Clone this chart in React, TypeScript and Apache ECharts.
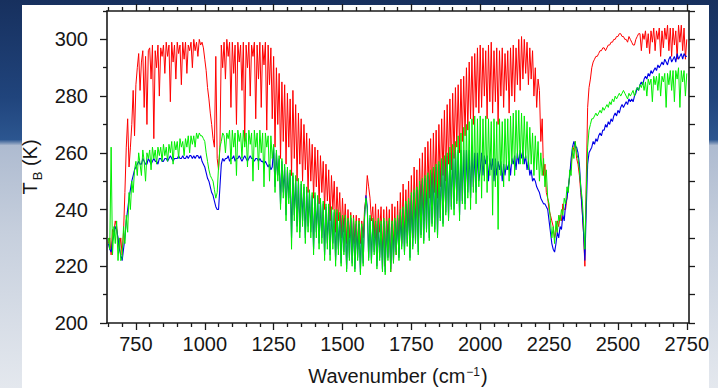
import React, { useEffect, useRef } from "react";
import * as echarts from "echarts";

// Sampling of the spectra: first wavenumber and spacing (cm^-1)
const WN_START = 650;
const WN_STEP = 5;

// Brightness temperatures (K), one row per 50 cm^-1
const redTB = [
  228, 230, 224, 233, 232, 236, 234, 229, 226, 230, // 650
  224, 232, 246, 262, 272, 255, 262, 270, 282, 266, // 700
  284, 290, 295, 282, 292, 296, 276, 294, 270, 296, // 750
  297, 286, 298, 265, 296, 290, 298, 280, 297, 294, // 800
  298, 288, 299, 294, 298, 278, 299, 292, 298, 286, // 850
  299, 295, 298, 284, 299, 293, 299, 288, 298, 296, // 900
  299, 290, 300, 296, 299, 294, 300, 298, 299, 297, // 950
  293, 289, 283, 279, 274, 270, 265, 262, 294, 258, // 1000
  254, 262, 298, 290, 299, 286, 300, 294, 299, 276, // 1050
  299, 288, 298, 270, 299, 292, 298, 282, 299, 264, // 1100
  298, 290, 299, 280, 298, 294, 299, 272, 298, 286, // 1150
  299, 276, 298, 291, 299, 268, 298, 284, 297, 272, // 1200
  294, 262, 290, 270, 288, 258, 285, 264, 284, 256, // 1250
  281, 262, 279, 252, 282, 258, 277, 250, 274, 256, // 1300
  272, 250, 270, 254, 267, 246, 265, 250, 263, 244, // 1350
  262, 248, 261, 242, 259, 246, 257, 240, 256, 243, // 1400
  254, 236, 252, 240, 250, 232, 248, 236, 246, 230, // 1450
  244, 232, 242, 228, 240, 230, 239, 226, 238, 228, // 1500
  238, 226, 237, 228, 236, 230, 240, 244, 252, 248, // 1550
  244, 236, 241, 230, 242, 226, 240, 232, 241, 224, // 1600
  240, 220, 241, 228, 240, 218, 242, 226, 241, 224, // 1650
  243, 226, 246, 228, 249, 230, 247, 232, 250, 228, // 1700
  252, 230, 255, 236, 254, 232, 258, 238, 260, 236, // 1750
  262, 240, 264, 244, 265, 240, 267, 246, 268, 244, // 1800
  270, 248, 272, 252, 275, 250, 277, 256, 279, 254, // 1850
  281, 258, 283, 262, 284, 260, 286, 264, 287, 266, // 1900
  290, 268, 292, 272, 294, 270, 295, 276, 297, 274, // 1950
  298, 276, 297, 280, 296, 272, 298, 278, 299, 274, // 2000
  296, 278, 297, 270, 296, 280, 297, 276, 295, 282, // 2050
  296, 274, 297, 280, 298, 278, 297, 284, 300, 282, // 2100
  301, 286, 300, 288, 299, 284, 297, 286, 296, 280, // 2150
  290, 276, 286, 282, 264, 272, 252, 256, 246, 244, // 2200
  240, 238, 236, 234, 230, 232, 236, 234, 238, 236, // 2250
  242, 240, 240, 244, 248, 252, 256, 260, 262, 264, // 2300
  258, 256, 252, 246, 240, 232, 220, 250, 276, 283, // 2350
  286, 290, 292, 293, 294, 294, 295, 296, 296, 297, // 2400
  297, 296, 297, 298, 298, 299, 299, 300, 300, 301, // 2450
  301, 302, 302, 301, 301, 300, 300, 299, 301, 300, // 2500
  299, 298, 298, 300, 301, 302, 302, 296, 302, 300, // 2550
  303, 297, 302, 295, 303, 299, 304, 296, 303, 300, // 2600
  304, 294, 303, 297, 304, 300, 305, 296, 304, 294, // 2650
  304, 298, 303, 293, 305, 299, 305, 296, 304, 293, // 2700
  300, // 2750
];

const blueTB = [
  228, 226, 225, 229, 231, 234, 233, 230, 226, 224, // 650
  222, 226, 230, 236, 240, 244, 247, 250, 252, 254, // 700
  255, 256, 257, 256, 256, 258, 257, 256, 256, 258, // 750
  257, 256, 257, 258, 257, 257, 256, 258, 258, 257, // 800
  257, 258, 258, 257, 258, 259, 258, 257, 258, 258, // 850
  258, 259, 258, 258, 259, 258, 258, 259, 258, 259, // 900
  259, 258, 259, 258, 259, 259, 258, 259, 257, 256, // 950
  255, 253, 251, 250, 248, 246, 245, 243, 241, 240, // 1000
  240, 248, 256, 258, 257, 258, 258, 259, 257, 258, // 1050
  258, 259, 257, 258, 258, 259, 258, 257, 258, 259, // 1100
  258, 257, 258, 259, 258, 258, 257, 258, 258, 257, // 1150
  258, 257, 257, 256, 257, 256, 255, 256, 254, 255, // 1200
  262, 248, 260, 252, 258, 242, 257, 246, 255, 238, // 1250
  254, 244, 253, 230, 252, 238, 251, 234, 250, 232, // 1300
  249, 236, 248, 230, 247, 234, 246, 232, 245, 226, // 1350
  245, 232, 244, 228, 243, 230, 242, 224, 241, 228, // 1400
  241, 224, 240, 228, 239, 222, 239, 226, 238, 221, // 1450
  237, 225, 237, 219, 236, 223, 237, 221, 236, 219, // 1500
  235, 223, 235, 218, 234, 221, 237, 245, 241, 223, // 1550
  237, 222, 236, 225, 235, 220, 236, 223, 235, 219, // 1600
  236, 218, 235, 223, 236, 219, 235, 222, 236, 225, // 1650
  237, 223, 239, 227, 240, 225, 242, 228, 243, 223, // 1700
  245, 227, 246, 229, 247, 225, 249, 231, 250, 229, // 1750
  251, 233, 252, 230, 253, 235, 254, 233, 255, 231, // 1800
  256, 237, 257, 235, 258, 239, 259, 237, 260, 241, // 1850
  260, 240, 261, 243, 261, 238, 261, 243, 261, 242, // 1900
  261, 246, 261, 244, 261, 248, 260, 246, 260, 250, // 1950
  254, 260, 252, 259, 256, 259, 250, 258, 254, 258, // 2000
  250, 258, 252, 257, 254, 257, 250, 256, 252, 256, // 2050
  254, 257, 252, 258, 256, 259, 254, 260, 256, 261, // 2100
  258, 261, 256, 259, 254, 257, 252, 254, 250, 251, // 2150
  250, 248, 247, 246, 244, 243, 242, 242, 241, 240, // 2200
  236, 232, 228, 226, 225, 228, 232, 230, 234, 233, // 2250
  238, 236, 242, 244, 248, 252, 258, 262, 264, 262, // 2300
  262, 260, 256, 248, 240, 232, 222, 240, 256, 260, // 2350
  261, 262, 264, 263, 265, 264, 266, 267, 266, 268, // 2400
  268, 270, 269, 271, 270, 272, 271, 273, 274, 273, // 2450
  275, 274, 276, 277, 276, 277, 278, 277, 279, 278, // 2500
  279, 278, 280, 281, 283, 282, 284, 285, 284, 286, // 2550
  287, 286, 288, 287, 289, 288, 289, 290, 289, 291, // 2600
  290, 291, 292, 291, 293, 292, 291, 293, 294, 292, // 2650
  293, 294, 292, 295, 293, 294, 295, 293, 295, 294, // 2700
  294, // 2750
];

const greenTB = [
  230, 226, 262, 224, 234, 228, 236, 222, 230, 222, // 650
  223, 234, 228, 238, 232, 246, 240, 250, 246, 254, // 700
  257, 252, 260, 256, 252, 261, 257, 250, 260, 258, // 750
  261, 254, 262, 258, 261, 256, 262, 259, 262, 257, // 800
  263, 259, 262, 257, 263, 260, 264, 256, 264, 261, // 850
  264, 258, 265, 262, 264, 259, 265, 262, 266, 260, // 900
  266, 263, 266, 262, 267, 265, 267, 266, 266, 265, // 950
  264, 260, 257, 254, 252, 251, 250, 247, 244, 246, // 1000
  255, 262, 264, 267, 266, 260, 267, 265, 268, 256, // 1050
  268, 262, 267, 252, 268, 264, 267, 258, 268, 262, // 1100
  267, 255, 268, 263, 267, 250, 268, 262, 267, 254, // 1150
  268, 260, 267, 248, 267, 262, 266, 250, 266, 258, // 1200
  263, 246, 261, 250, 259, 240, 258, 244, 256, 236, // 1250
  255, 242, 254, 226, 253, 236, 252, 232, 251, 230, // 1300
  250, 234, 249, 228, 248, 232, 247, 230, 246, 224, // 1350
  246, 230, 245, 226, 244, 228, 243, 222, 242, 226, // 1400
  242, 222, 241, 226, 240, 220, 240, 224, 239, 220, // 1450
  238, 224, 238, 218, 237, 222, 238, 220, 237, 218, // 1500
  236, 222, 236, 217, 235, 220, 238, 244, 240, 222, // 1550
  238, 221, 237, 224, 236, 219, 237, 222, 236, 218, // 1600
  237, 217, 236, 222, 237, 218, 236, 221, 237, 224, // 1650
  238, 222, 240, 226, 241, 224, 243, 227, 244, 222, // 1700
  246, 226, 247, 228, 248, 224, 250, 230, 251, 228, // 1750
  252, 232, 253, 229, 254, 234, 255, 232, 256, 230, // 1800
  257, 236, 258, 234, 259, 238, 260, 236, 262, 240, // 1850
  263, 238, 264, 242, 266, 236, 267, 242, 269, 240, // 1900
  270, 244, 271, 240, 272, 246, 273, 242, 272, 248, // 1950
  273, 244, 272, 250, 273, 246, 272, 252, 271, 238, // 2000
  272, 248, 271, 233, 272, 252, 271, 248, 272, 254, // 2050
  272, 250, 273, 256, 274, 252, 275, 258, 275, 256, // 2100
  274, 256, 273, 258, 271, 254, 269, 256, 267, 252, // 2150
  266, 254, 264, 250, 260, 252, 258, 248, 254, 244, // 2200
  242, 236, 230, 234, 228, 236, 232, 238, 236, 240, // 2250
  238, 244, 242, 248, 246, 254, 252, 262, 258, 264, // 2300
  260, 258, 254, 248, 244, 236, 226, 246, 262, 268, // 2350
  270, 272, 272, 273, 274, 273, 274, 275, 274, 276, // 2400
  275, 276, 277, 276, 278, 277, 279, 278, 280, 279, // 2450
  280, 281, 280, 281, 282, 281, 280, 279, 281, 280, // 2500
  281, 282, 280, 282, 283, 282, 284, 283, 285, 282, // 2550
  285, 280, 286, 284, 286, 278, 287, 284, 287, 282, // 2600
  288, 280, 287, 285, 288, 276, 288, 284, 289, 282, // 2650
  289, 278, 289, 286, 290, 276, 289, 285, 289, 280, // 2700
  288, // 2750
];

const xMajorTicks = [750, 1000, 1250, 1500, 1750, 2000, 2250, 2500, 2750];
const xMinorTicks = [
  650, 700, 800, 850, 900, 950, 1050, 1100, 1150, 1200, 1300, 1350, 1400, 1450,
  1550, 1600, 1650, 1700, 1800, 1850, 1900, 1950, 2050, 2100, 2150, 2200, 2300,
  2350, 2400, 2450, 2550, 2600, 2650, 2700,
];
const yMajorTicks = [200, 220, 240, 260, 280, 300];
const yMinorTicks = [210, 230, 250, 270, 290, 310];

const X_MIN = 645;
const X_MAX = 2758;
const Y_MIN = 200;
const Y_MAX = 310;

const FONT = "'Liberation Sans', Arial, Helvetica, sans-serif";
const AXIS_COLOR = "#1a1a1a";
const TEXT_COLOR = "#161616";

const toPairs = (vals: number[]) =>
  vals.map((v, i) => [WN_START + i * WN_STEP, v]);

const plain = (v: number) => String(v);

function xAxis(position: string, ticks: number[], len: number, opts: any = {}) {
  return {
    type: "value",
    position,
    min: X_MIN,
    max: X_MAX,
    axisLine: { show: opts.line ?? false, onZero: false, lineStyle: { color: AXIS_COLOR, width: 1.6 } },
    axisTick: { show: true, inside: false, length: len, customValues: ticks, lineStyle: { color: AXIS_COLOR, width: 1.3 } },
    axisLabel: opts.labels
      ? { show: true, customValues: ticks, formatter: plain, fontSize: 20, fontFamily: FONT, color: TEXT_COLOR, margin: 11 }
      : { show: false },
    splitLine: { show: false },
    ...(opts.extra || {}),
  };
}

function yAxis(position: string, ticks: number[], len: number, opts: any = {}) {
  return {
    type: "value",
    position,
    min: Y_MIN,
    max: Y_MAX,
    axisLine: { show: opts.line ?? false, onZero: false, lineStyle: { color: AXIS_COLOR, width: 1.6 } },
    axisTick: { show: true, inside: false, length: len, customValues: ticks, lineStyle: { color: AXIS_COLOR, width: 1.3 } },
    axisLabel: opts.labels
      ? { show: true, customValues: ticks, formatter: plain, fontSize: 20, fontFamily: FONT, color: TEXT_COLOR, margin: 19 }
      : { show: false },
    splitLine: { show: false },
    ...(opts.extra || {}),
  };
}

export default function App() {
  const ref = useRef<HTMLDivElement>(null);

  useEffect(() => {
    if (!ref.current) return;
    const chart = echarts.init(ref.current, null, { renderer: "svg" });
    chart.setOption({
      animation: false,
      backgroundColor: "transparent",
      grid: { left: 107, right: 29, top: 11, bottom: 65, containLabel: false, outerBoundsMode: "none" },
      xAxis: [
        xAxis("bottom", xMajorTicks, 7, {
          line: true,
          labels: true,
          extra: {
            name: "{n|Wavenumber (cm}{sup|\u22121}{n|)}",
            nameLocation: "middle",
            nameGap: 43,
            nameTextStyle: {
              rich: {
                n: { fontSize: 20, fontFamily: FONT, color: TEXT_COLOR },
                sup: { fontSize: 12, fontFamily: FONT, color: TEXT_COLOR, verticalAlign: "top", padding: [0, 1, 6, 1] },
              },
            },
          },
        }),
        xAxis("top", xMajorTicks, 7, { line: true }),
        xAxis("bottom", xMinorTicks, 4),
        xAxis("top", xMinorTicks, 4),
      ],
      yAxis: [
        yAxis("left", yMajorTicks, 7, {
          line: true,
          labels: true,
          extra: {
            name: "{n|T}{sub|B}{n| (K)}",
            nameLocation: "middle",
            nameRotate: 90,
            nameGap: 62,
            nameTextStyle: {
              rich: {
                n: { fontSize: 20, fontFamily: FONT, color: TEXT_COLOR, verticalAlign: "top" },
                sub: { fontSize: 13, fontFamily: FONT, color: TEXT_COLOR, verticalAlign: "top", padding: [11, 0, 0, 2] },
              },
            },
          },
        }),
        yAxis("right", yMajorTicks, 6, { line: true }),
        yAxis("left", yMinorTicks, 4),
        yAxis("right", yMinorTicks, 6),
      ],
      series: [
        {
          name: "red",
          type: "line",
          data: toPairs(redTB),
          showSymbol: false,
          symbol: "none",
          lineStyle: { color: "#ff0000", width: 1 },
          z: 2,
        },
        {
          name: "blue",
          type: "line",
          data: toPairs(blueTB),
          showSymbol: false,
          symbol: "none",
          lineStyle: { color: "#0000e6", width: 1.1 },
          z: 3,
        },
        {
          name: "green",
          type: "line",
          data: toPairs(greenTB),
          showSymbol: false,
          symbol: "none",
          lineStyle: { color: "#00ee00", width: 1 },
          z: 4,
        },
      ],
    });
    return () => chart.dispose();
  }, []);

  return (
    <div
      style={{
        position: "absolute",
        left: 0,
        top: 0,
        width: 718,
        height: 388,
        overflow: "hidden",
        background:
          "linear-gradient(180deg, #17305e 0%, #20447c 25%, #2c5690 36%, #aebbd0 37.5%, #c6cfdd 60%, #e4e8ee 100%)",
      }}
    >
      <div style={{ position: "absolute", left: 22, top: 5, width: 687, height: 383, background: "#ffffff" }} />
      <div ref={ref} style={{ position: "absolute", left: 0, top: 0, width: 718, height: 388 }} />
    </div>
  );
}
